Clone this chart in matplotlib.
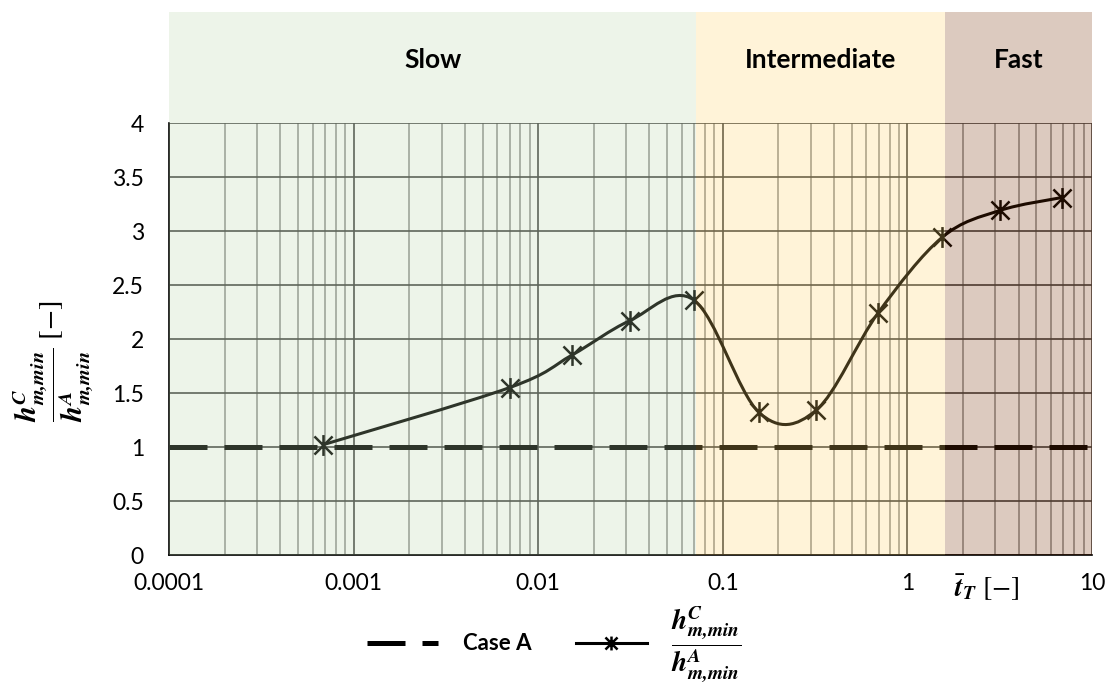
import numpy as np
import matplotlib
matplotlib.use('Agg')
import matplotlib.pyplot as plt
from matplotlib.path import Path
from matplotlib.patches import PathPatch, Rectangle
from matplotlib.lines import Line2D
from matplotlib.transforms import blended_transform_factory

plt.rcParams['font.family'] = ['Lato', 'DejaVu Sans']
plt.rcParams['mathtext.fontset'] = 'stix'

# data
t_T = [0.00068, 0.0070, 0.0152, 0.0314, 0.0698, 0.157, 0.32, 0.693, 1.54, 3.17, 6.87]
ratio = [1.02, 1.55, 1.85, 2.17, 2.36, 1.32, 1.34, 2.24, 2.94, 3.19, 3.31]
case_a = 1.0

region_names = ['Slow', 'Intermediate', 'Fast']
region_edges = [0.0001, 0.072, 1.6, 10]
region_colors = ['#bbd7ab', '#ffd367', '#772f03']

x_ticks = [0.0001, 0.001, 0.01, 0.1, 1, 10]
x_labels = ['0.0001', '0.001', '0.01', '0.1', '1', '10']
y_ticks = np.arange(0, 4.01, 0.5)

frac = r'\dfrac{\mathbfit{h}^{\mathbfit{C}}_{\mathbfit{m{,}min}}}{\mathbfit{h}^{\mathbfit{A}}_{\mathbfit{m{,}min}}}'

fig = plt.figure(figsize=(11.09, 6.82), dpi=100)
ax = fig.add_axes([169 / 1109, 1 - 555 / 682, 923 / 1109, 432 / 682])
ax.set_xscale('log')
ax.set_xlim(1e-4, 10)
ax.set_ylim(0, 4)

ax.set_xticks(x_ticks, x_labels)
ax.set_xticks([m * 10.0 ** e for e in range(-4, 1) for m in range(2, 10)], minor=True)
ax.set_yticks(y_ticks, ['%g' % v for v in y_ticks])
ax.tick_params(which='both', length=0, labelsize=16.5)
ax.tick_params(axis='y', pad=18)
ax.tick_params(axis='x', pad=13)
ax.set_axisbelow(True)
ax.grid(which='major', color='#404040', lw=1.2)
ax.grid(which='minor', axis='x', color='#959595', lw=1.2)
for s in ['top', 'right']:
    ax.spines[s].set_visible(False)
for s in ['left', 'bottom']:
    ax.spines[s].set_color('black')
    ax.spines[s].set_linewidth(1.2)

# case A reference line
ax.plot([1e-4, 10], [case_a, case_a], color='black', lw=3.6, dashes=(7.6, 3.4))

# smoothed curve (Excel-style Bezier through the points, in log-x space)
lx = np.log10(t_T)
yy = np.array(ratio)
n = len(lx)
verts = [(t_T[0], ratio[0])]
codes = [Path.MOVETO]
for i in range(n - 1):
    i0, i3 = max(i - 1, 0), min(i + 2, n - 1)
    c1 = (lx[i] + (lx[i + 1] - lx[i0]) / 6, yy[i] + (yy[i + 1] - yy[i0]) / 6)
    c2 = (lx[i + 1] - (lx[i3] - lx[i]) / 6, yy[i + 1] - (yy[i3] - yy[i]) / 6)
    verts += [(10 ** c1[0], c1[1]), (10 ** c2[0], c2[1]), (t_T[i + 1], ratio[i + 1])]
    codes += [Path.CURVE4] * 3
ax.add_patch(PathPatch(Path(verts, codes), fill=False, edgecolor='black', lw=2.2))

star = Path([(-1, -1), (1, 1), (-1, 1), (1, -1), (0, -1.15), (0, 1.15)],
            [Path.MOVETO, Path.LINETO] * 3)
ax.plot(t_T, ratio, ls='none', marker=star, ms=15, mew=1.8, color='black',
        mfc='none')

# shaded speed regions, drawn as a translucent overlay
bt = blended_transform_factory(ax.transData, fig.transFigure)
y0, y1 = 1 - 555 / 682, 1 - 12 / 682
for name, a, b, c in zip(region_names, region_edges[:-1], region_edges[1:], region_colors):
    fig.add_artist(Rectangle((a, y0), b - a, y1 - y0, transform=bt, facecolor=c,
                             edgecolor='none', alpha=0.25, zorder=2))
    fig.text(10 ** ((np.log10(a) + np.log10(b)) / 2), 1 - 60 / 682, name, transform=bt,
             ha='center', va='center', fontsize=19, fontweight='bold', zorder=4)

ax.text(0.886, -0.077, r'$\bar{\mathbfit{t}}_{\mathbfit{T}}\ [-]$', transform=ax.transAxes,
        ha='center', va='center', fontsize=20)
fig.text(53 / 1109, 1 - 361 / 682, '$' + frac + r'\ [-]$',
         rotation=90, ha='center', va='center', fontsize=21)

handles = [Line2D([], [], color='black', lw=3.6, dashes=(7.6, 3.4)),
           Line2D([], [], color='black', lw=2.2, marker=star, ms=10, mew=1.8)]
labels = ['Case A', '$' + frac + '$']
leg = fig.legend(handles, labels, loc='center', bbox_to_anchor=(0.5, 1 - 644 / 682),
                 ncol=2, frameon=False, fontsize=16, handlelength=3.2,
                 handletextpad=1.1, columnspacing=2.0, borderpad=0.1)
leg.get_texts()[0].set_fontweight('bold')
leg.get_texts()[1].set_fontsize(20)

fig.savefig('out.png', dpi=100)
